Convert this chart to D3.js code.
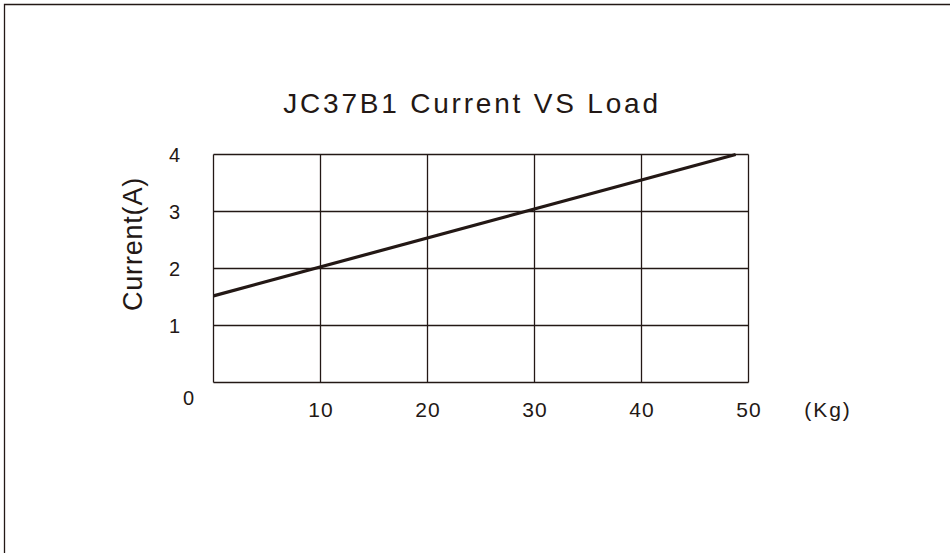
<!DOCTYPE html>
<html>
<head>
<meta charset="utf-8">
<script src="https://cdn.jsdelivr.net/npm/d3@7"></script>
<style>
  html, body { margin: 0; padding: 0; background: #fff; }
  svg { display: block; }
  text { font-family: "Liberation Sans", Arial, Helvetica, sans-serif; fill: #231815; }
</style>
</head>
<body>
<svg id="chart" width="950" height="553"></svg>
<script>
// ---- data ----
const title = "JC37B1 Current VS Load";
const yLabel = "Current(A)";
const xUnit = "(Kg)";
const xTicks = [10, 20, 30, 40, 50];
const yTicks = [1, 2, 3, 4];
const loadKg = [0, 48.8];
const currentA = [1.52, 4.0];

// ---- layout ----
const W = 950, H = 553;
const plot = { left: 213.5, right: 748.5, top: 154.5, bottom: 382.5 };
const ink = "#231815";

const svg = d3.select("#chart");

// outer frame (top and left edges)
svg.append("path")
  .attr("d", `M4.5,${H} L4.5,4.5 L${W},4.5`)
  .attr("fill", "none").attr("stroke", ink).attr("stroke-width", 1.3);

const x = d3.scaleLinear().domain([0, 50]).range([plot.left, plot.right]);
const y = d3.scaleLinear().domain([0, 4]).range([plot.bottom, plot.top]);

// grid
const g = svg.append("g");
g.selectAll(".vg").data(xTicks).join("line")
  .attr("x1", d => x(d)).attr("x2", d => x(d))
  .attr("y1", plot.top).attr("y2", plot.bottom)
  .attr("stroke", ink).attr("stroke-width", 1.3);
g.selectAll(".hg").data(yTicks).join("line")
  .attr("x1", plot.left).attr("x2", plot.right)
  .attr("y1", d => y(d)).attr("y2", d => y(d))
  .attr("stroke", ink).attr("stroke-width", 1.3);
// frame left & bottom
g.append("line").attr("x1", x(0)).attr("x2", x(0)).attr("y1", plot.top).attr("y2", plot.bottom)
  .attr("stroke", ink).attr("stroke-width", 1.3);
g.append("line").attr("x1", plot.left).attr("x2", plot.right).attr("y1", y(0)).attr("y2", y(0))
  .attr("stroke", ink).attr("stroke-width", 1.3);

// axes labels via d3 axes
const xAxis = svg.append("g")
  .attr("transform", `translate(0,${plot.bottom})`)
  .call(d3.axisBottom(x).tickValues(xTicks).tickSize(0).tickPadding(0).tickFormat(d3.format("d")));
xAxis.select(".domain").remove();
xAxis.selectAll("text")
  .attr("y", 34).attr("dy", null)
  .style("font-size", "21px").style("letter-spacing", "1px").attr("fill", ink)
  .style("font-family", "'Liberation Sans', Arial, sans-serif");

const yAxis = svg.append("g")
  .attr("transform", `translate(${plot.left},0)`)
  .call(d3.axisLeft(y).tickValues(yTicks).tickSize(0).tickPadding(0).tickFormat(d3.format("d")));
yAxis.select(".domain").remove();
yAxis.selectAll("text")
  .attr("x", -39).attr("dy", "0.36em").attr("text-anchor", "middle")
  .style("font-size", "20px").attr("fill", ink)
  .style("font-family", "'Liberation Sans', Arial, sans-serif");

// origin label
svg.append("text")
  .attr("x", x(0) - 25).attr("y", y(0) + 22)
  .attr("text-anchor", "middle")
  .style("font-size", "20px")
  .text("0");

// unit label
svg.append("text")
  .attr("x", 828).attr("y", plot.bottom + 34)
  .attr("text-anchor", "middle")
  .style("font-size", "21px").style("letter-spacing", "2px")
  .text(xUnit);

// title
svg.append("text")
  .attr("x", 472).attr("y", 113)
  .attr("text-anchor", "middle")
  .style("font-size", "28px").style("letter-spacing", "2.8px")
  .text(title);

// y label
svg.append("text")
  .attr("transform", `translate(142,244) rotate(-90)`)
  .attr("text-anchor", "middle")
  .style("font-size", "27px").style("letter-spacing", "0.8px")
  .text(yLabel);

// data line
const pts = loadKg.map((k, i) => [k, currentA[i]]);
svg.append("path")
  .datum(pts)
  .attr("d", d3.line().x(d => x(d[0])).y(d => y(d[1])))
  .attr("fill", "none").attr("stroke", ink).attr("stroke-width", 3.2);
</script>
</body>
</html>
